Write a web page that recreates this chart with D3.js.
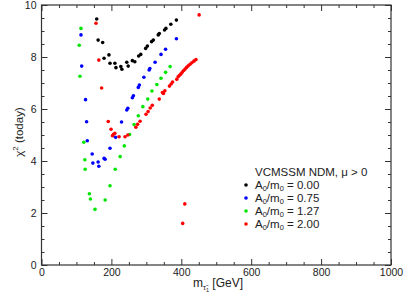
<!DOCTYPE html>
<html><head><meta charset="utf-8">
<script src="https://cdn.jsdelivr.net/npm/d3@7"></script>
<style>
body{margin:0;background:#fff}
svg{display:block}
text{font-family:"Liberation Sans",Arial,Helvetica,sans-serif;fill:#222}
</style>
</head><body>
<svg id="c" width="405" height="294"></svg>
<script>
// ---- data ----
const xMajorTicks = [0, 200, 400, 600, 800, 1000];
const yMajorTicks = [0, 2, 4, 6, 8, 10];
const ratioLabels = ["0.00", "0.75", "1.27", "2.00"];
const seriesColors = ["#000000", "#0000ff", "#00e600", "#ff0000"];

const ratio000 = [[158,9.46],[162,8.65],[175,8.56],[179,7.95],[193,8.08],[196,7.76],[210,7.76],[213,7.59],[227,7.63],[230,7.53],[244,7.8],[248,7.65],[260,7.86],[267,7.82],[278,8.04],[284,8.1],[298,8.33],[303,8.42],[315,8.59],[320,8.65],[334,8.85],[337,8.9],[352,9.04],[356,9.1],[370,9.26],[386,9.42]];
const ratio075 = [[113,8.85],[115,7.65],[126,6.36],[129,5.51],[131,4.78],[145,4.27],[147,3.92],[162,3.96],[164,3.8],[179,4.1],[182,4.07],[196,4.49],[212,4.91],[229,5.5],[244,5.96],[247,6.03],[260,6.43],[263,6.51],[277,6.83],[280,6.92],[293,7.22],[308,7.5],[310,7.56],[325,7.8],[342,8.1],[355,8.3],[386,8.7]];
const ratio127 = [[108,8.45],[110,7.26],[113,9.1],[121,4.72],[124,4.05],[125,3.68],[137,2.74],[140,2.54],[153,2.14],[182,2.5],[196,3.05],[211,3.68],[225,4.17],[237,4.58],[252,5.02],[265,5.4],[277,5.74],[290,6.09],[304,6.38],[316,6.69],[330,6.94],[342,7.18],[355,7.41],[368,7.63]];
const ratio200 = [[156,9.3],[164,7.88],[172,6.81],[191,5.52],[199,5.22],[203,4.97],[206,5.03],[210,5.07],[222,4.93],[239,4.93],[247,5.0],[270,5.3],[275,5.41],[282,5.53],[299,5.8],[305,5.9],[311,6.04],[317,6.14],[337,6.38],[346,6.63],[349,6.6],[353,6.7],[366,6.88],[371,6.96],[375,7.04],[387,7.14],[391,7.24],[395,7.3],[399,7.35],[403,7.42],[407,7.48],[411,7.54],[415,7.6],[420,7.66],[425,7.72],[430,7.78],[436,7.84],[442,7.9],[404,1.6],[410,2.35],[451,9.62]];
const allSeries = [ratio000, ratio075, ratio127, ratio200];

// ---- layout ----
const svg = d3.select("#c");
const L = 41.5, R = 391, T = 5, B = 265;
const x = d3.scaleLinear().domain([0, 1000]).range([L, R]);
const y = d3.scaleLinear().domain([0, 10]).range([B, T]);
const xMinor = d3.range(0, 1001, 50).filter(v => !xMajorTicks.includes(v));
const yMinor = d3.range(0, 10.01, 0.5).filter(v => !yMajorTicks.includes(v));
const fs = 10.5;

function styleAxis(g){
  g.select(".domain").remove();
  g.selectAll(".tick line").attr("stroke", "#333").attr("stroke-width", 1);
  g.selectAll("text").attr("font-size", fs).attr("fill", "#222").attr("font-family", '"Liberation Sans",Arial,sans-serif');
}

// bottom
svg.append("g").attr("transform", `translate(0,${B})`)
  .call(d3.axisBottom(x).tickValues(xMajorTicks).tickSize(-6).tickPadding(4).tickFormat(d3.format("d")))
  .call(styleAxis);
svg.append("g").attr("transform", `translate(0,${B})`)
  .call(d3.axisBottom(x).tickValues(xMinor).tickSize(-3).tickFormat(""))
  .call(styleAxis);
// top
svg.append("g").attr("transform", `translate(0,${T})`)
  .call(d3.axisTop(x).tickValues(xMajorTicks).tickSize(-6).tickFormat(""))
  .call(styleAxis);
svg.append("g").attr("transform", `translate(0,${T})`)
  .call(d3.axisTop(x).tickValues(xMinor).tickSize(-3).tickFormat(""))
  .call(styleAxis);
// left
svg.append("g").attr("transform", `translate(${L},0)`)
  .call(d3.axisLeft(y).tickValues(yMajorTicks).tickSize(-6).tickPadding(5).tickFormat(d3.format("d")))
  .call(styleAxis);
svg.append("g").attr("transform", `translate(${L},0)`)
  .call(d3.axisLeft(y).tickValues(yMinor).tickSize(-3).tickFormat(""))
  .call(styleAxis);
// right
svg.append("g").attr("transform", `translate(${R},0)`)
  .call(d3.axisRight(y).tickValues(yMajorTicks).tickSize(-6).tickFormat(""))
  .call(styleAxis);
svg.append("g").attr("transform", `translate(${R},0)`)
  .call(d3.axisRight(y).tickValues(yMinor).tickSize(-3).tickFormat(""))
  .call(styleAxis);

// frame
svg.append("rect").attr("x", L).attr("y", T).attr("width", R - L).attr("height", B - T)
  .attr("fill", "none").attr("stroke", "#333").attr("stroke-width", 1.2);

// points
allSeries.forEach((s, i) => {
  svg.append("g").selectAll("circle").data(s).join("circle")
    .attr("cx", d => x(d[0])).attr("cy", d => y(d[1])).attr("r", 1.8)
    .attr("fill", seriesColors[i]);
});

// axis titles
const xt = svg.append("text").attr("x", 218).attr("y", 287).attr("text-anchor", "middle").attr("font-size", 12);
xt.append("tspan").text("m");
xt.append("tspan").attr("font-size", 7.5).attr("dy", 3).text("τ̃");
xt.append("tspan").attr("font-size", 5.5).attr("dy", 2).text("1");
xt.append("tspan").attr("dy", -5).text(" [GeV]");

const yt = svg.append("text").attr("transform", "translate(23,132) rotate(-90)")
  .attr("text-anchor", "middle").attr("font-size", 11.5);
yt.append("tspan").text("χ");
yt.append("tspan").attr("font-size", 8).attr("dy", -5).text("2");
yt.append("tspan").attr("dy", 5).text(" (today)");

// legend
svg.append("text").attr("x", 255).attr("y", 176).attr("font-size", 11.5).text("VCMSSM NDM, μ > 0");
ratioLabels.forEach((lab, i) => {
  const yy = 185 + i * 13;
  svg.append("circle").attr("cx", 246).attr("cy", yy).attr("r", 1.8).attr("fill", seriesColors[i]);
  const t = svg.append("text").attr("x", 255).attr("y", yy + 4).attr("font-size", 11.5);
  t.append("tspan").text("A");
  t.append("tspan").attr("font-size", 7.5).attr("dy", 2).text("0");
  t.append("tspan").attr("dy", -2).text("/m");
  t.append("tspan").attr("font-size", 7.5).attr("dy", 2).text("0");
  t.append("tspan").attr("dy", -2).text(" = " + lab);
});
</script>
</body></html>
